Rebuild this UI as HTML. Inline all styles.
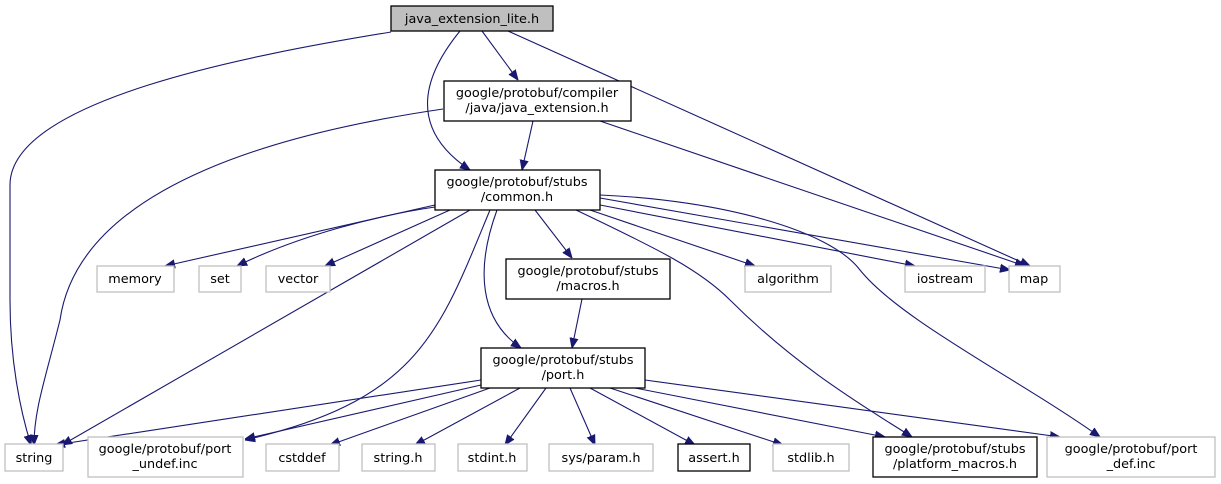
<!DOCTYPE html>
<html><head><meta charset="utf-8"><style>
html,body{margin:0;padding:0;background:#fff;}
svg{display:block;}
text{font-family:"DejaVu Sans","Liberation Sans",sans-serif;font-size:12.8px;fill:#000;text-anchor:middle;}
.g{fill:#fff;stroke:#bfbfbf;stroke-width:1.3;}
.b{fill:#fff;stroke:#000;stroke-width:1.3;}
.e{fill:none;stroke:#191970;stroke-width:1.1;}
</style></head><body>
<svg width="1221" height="484" viewBox="0 0 1221 484" xmlns="http://www.w3.org/2000/svg">
<defs><marker id="a" viewBox="0 0 10 10" refX="10" refY="5" markerWidth="10" markerHeight="10" markerUnits="userSpaceOnUse" orient="auto"><path d="M0,1 L10,5 L0,9 z" fill="#191970" stroke="#191970"/></marker></defs>
<g marker-end="url(#a)">
<path class="e" d="M391,32 C250,55 10,100 10,185 L10,300 C10,360 20,410 31,445"/>
<path class="e" d="M482,31 L518,80"/>
<path class="e" d="M460,31 C420,80 410,130 470,170"/>
<path class="e" d="M508,31 L1030,266"/>
<path class="e" d="M443,109 C300,130 80,180 60,320 C45,380 34,410 34,445"/>
<path class="e" d="M533,121 L522,170"/>
<path class="e" d="M600,121 L1025,266"/>
<path class="e" d="M435,205 L165,266"/>
<path class="e" d="M435,207 C380,215 300,235 237,266"/>
<path class="e" d="M450,210 L325,266"/>
<path class="e" d="M470,210 L62,445"/>
<path class="e" d="M490,210 C440,330 420,400 245,440"/>
<path class="e" d="M497,210 C475,270 480,320 521,348"/>
<path class="e" d="M535,210 L572,258"/>
<path class="e" d="M576,210 C660,250 700,270 730,300 C800,370 870,410 912,437"/>
<path class="e" d="M590,210 L755,266"/>
<path class="e" d="M600,205 L915,266"/>
<path class="e" d="M600,198 L1010,270"/>
<path class="e" d="M600,195 C720,200 830,230 860,270 C900,320 1020,380 1100,437"/>
<path class="e" d="M582,299 L572,348"/>
<path class="e" d="M481,380 L55,445"/>
<path class="e" d="M481,385 L245,439"/>
<path class="e" d="M490,388 L330,445"/>
<path class="e" d="M520,388 L415,445"/>
<path class="e" d="M546,388 L505,445"/>
<path class="e" d="M570,388 L595,445"/>
<path class="e" d="M590,388 L695,445"/>
<path class="e" d="M610,388 L783,445"/>
<path class="e" d="M635,388 L885,437"/>
<path class="e" d="M645,380 L1060,437"/>
</g>
<rect x="391" y="6" width="162" height="25" fill="#bfbfbf" stroke="#000" stroke-width="1.3"/>
<text x="472" y="23">java_extension_lite.h</text>
<rect class="b" x="444" y="81" width="187" height="40"/>
<text x="537" y="97">google/protobuf/compiler</text><text x="537" y="112">/java/java_extension.h</text>
<rect class="b" x="435" y="170" width="165" height="40"/>
<text x="517" y="186">google/protobuf/stubs</text><text x="517" y="201">/common.h</text>
<rect class="g" x="97" y="266" width="77" height="26"/><text x="135" y="283">memory</text>
<rect class="g" x="199" y="266" width="42" height="26"/><text x="220" y="283">set</text>
<rect class="g" x="266" y="266" width="64" height="26"/><text x="298" y="283">vector</text>
<rect class="b" x="506" y="259" width="164" height="40"/>
<text x="588" y="275">google/protobuf/stubs</text><text x="588" y="290">/macros.h</text>
<rect class="g" x="745" y="266" width="86" height="26"/><text x="788" y="283">algorithm</text>
<rect class="g" x="905" y="266" width="80" height="26"/><text x="945" y="283">iostream</text>
<rect class="g" x="1009" y="266" width="51" height="26"/><text x="1034" y="283">map</text>
<rect class="b" x="481" y="348" width="164" height="40"/>
<text x="563" y="364">google/protobuf/stubs</text><text x="563" y="379">/port.h</text>
<rect class="g" x="5" y="444" width="58" height="27"/><text x="34" y="462">string</text>
<rect class="g" x="88" y="437" width="155" height="40"/>
<text x="165" y="453">google/protobuf/port</text><text x="165" y="468">_undef.inc</text>
<rect class="g" x="266" y="444" width="73" height="27"/><text x="302" y="462">cstddef</text>
<rect class="g" x="362" y="444" width="73" height="27"/><text x="398" y="462">string.h</text>
<rect class="g" x="458" y="444" width="69" height="27"/><text x="492" y="462">stdint.h</text>
<rect class="g" x="549" y="444" width="104" height="27"/><text x="601" y="462">sys/param.h</text>
<rect class="b" x="678" y="444" width="72" height="27"/><text x="714" y="462">assert.h</text>
<rect class="g" x="773" y="444" width="76" height="27"/><text x="811" y="462">stdlib.h</text>
<rect class="b" x="873" y="437" width="164" height="40"/>
<text x="955" y="453">google/protobuf/stubs</text><text x="955" y="468">/platform_macros.h</text>
<rect class="g" x="1047" y="437" width="168" height="40"/>
<text x="1131" y="453">google/protobuf/port</text><text x="1131" y="468">_def.inc</text>
</svg>
</body></html>
